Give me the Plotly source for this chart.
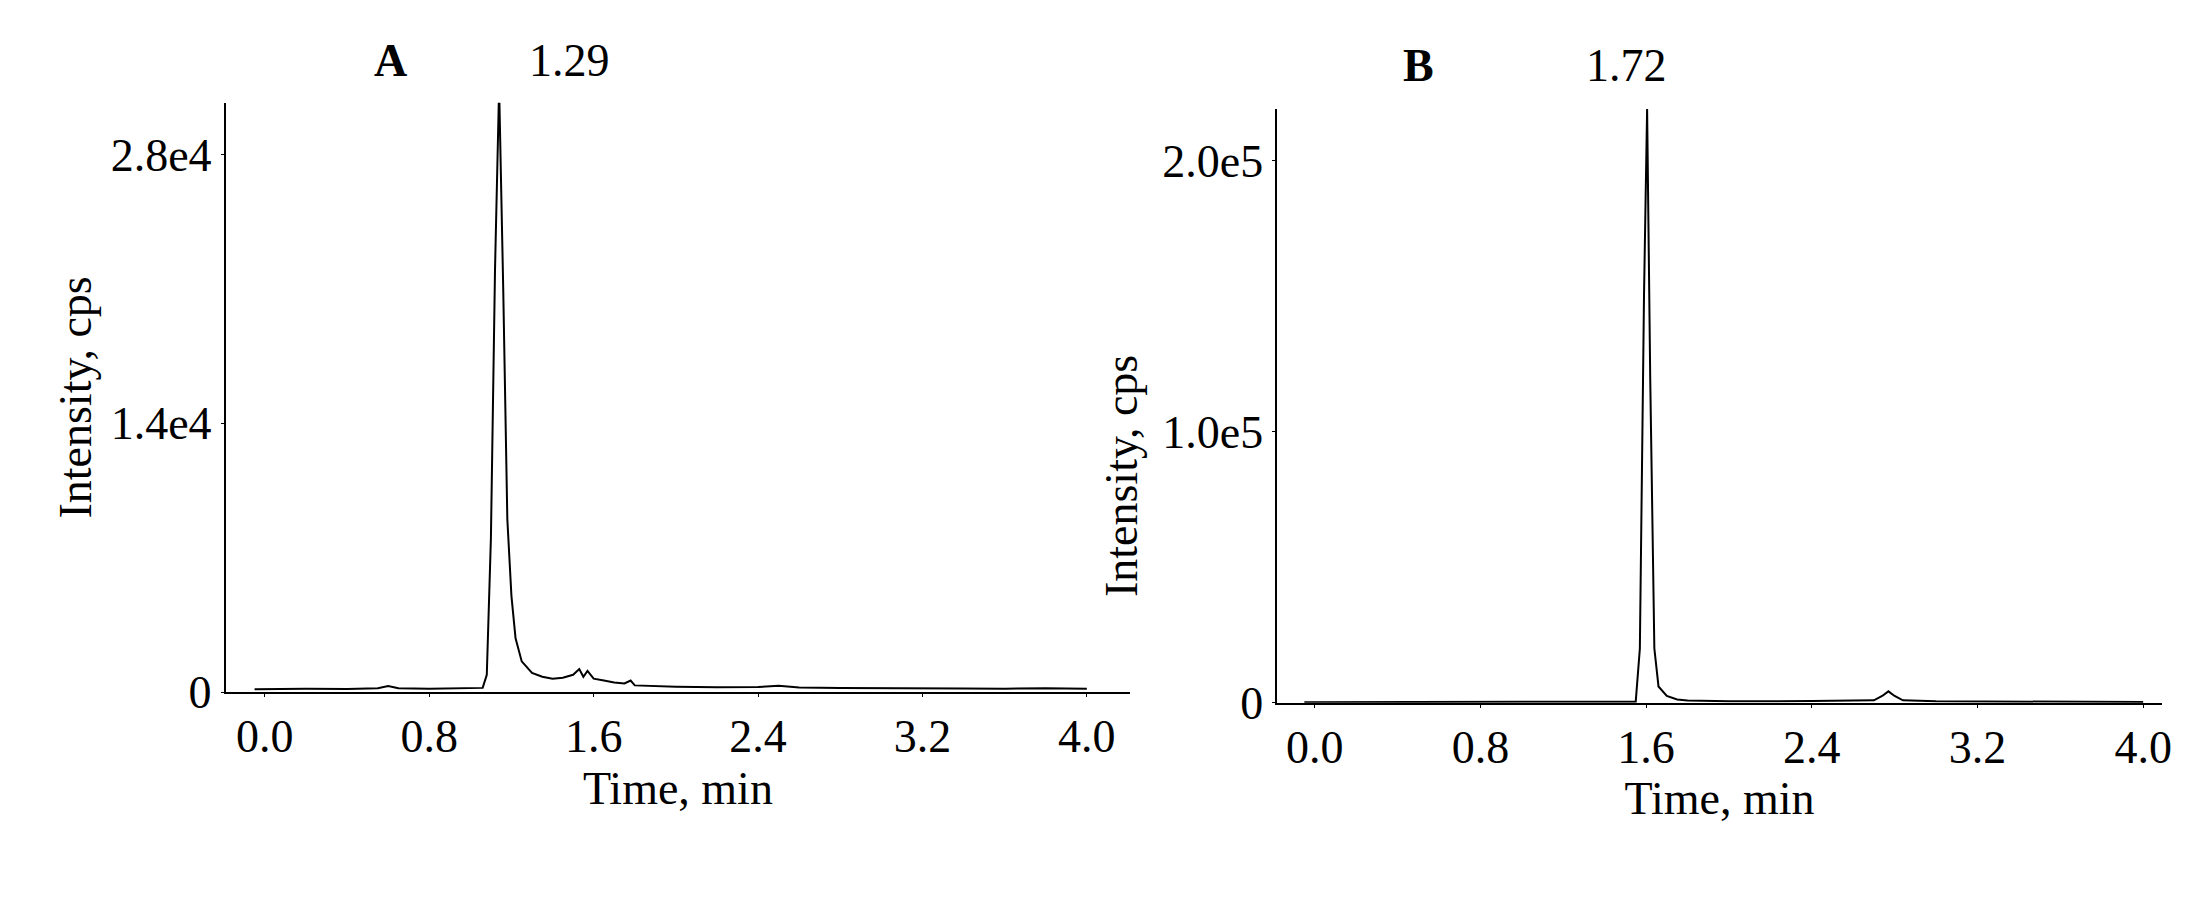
import plotly.graph_objects as go
from plotly.subplots import make_subplots

# Panel A chromatogram (time in min, intensity in cps)
time_a = [-0.05, 0.2, 0.4, 0.55, 0.6, 0.65, 0.8, 1.0, 1.06, 1.08, 1.10, 1.12, 1.14, 1.16, 1.18,
          1.20, 1.22, 1.25, 1.30, 1.35, 1.40, 1.45, 1.50, 1.53, 1.55, 1.57, 1.60, 1.65,
          1.70, 1.75, 1.78, 1.80, 1.90, 2.0, 2.2, 2.4, 2.5, 2.6, 2.8, 3.0, 3.2, 3.4, 3.6, 3.8, 4.0]
int_a = [150, 180, 160, 200, 320, 200, 180, 200, 220, 900, 8000, 22000, 31500, 21000, 9000,
         5000, 2800, 1600, 1000, 800, 700, 750, 900, 1200, 800, 1100, 700, 600,
         500, 450, 600, 350, 300, 280, 250, 260, 330, 240, 220, 200, 210, 190, 180, 200, 170]

# Panel B chromatogram
time_b = [-0.05, 0.5, 1.0, 1.4, 1.55, 1.57, 1.59, 1.605, 1.62, 1.64, 1.66, 1.70, 1.75, 1.80,
          2.0, 2.4, 2.7, 2.74, 2.77, 2.80, 2.84, 3.0, 3.5, 4.0]
int_b = [200, 200, 220, 250, 400, 20000, 150000, 219000, 120000, 20000, 6000, 2500, 1200, 800,
         500, 600, 900, 2500, 4200, 2500, 900, 500, 400, 300]

ticks_x = [0.0, 0.8, 1.6, 2.4, 3.2, 4.0]
tick_text_x = ["0.0", "0.8", "1.6", "2.4", "3.2", "4.0"]
ticks_ya = [0, 14000, 28000]
tick_text_ya = ["0", "1.4e4", "2.8e4"]
ticks_yb = [0, 100000, 200000]
tick_text_yb = ["0", "1.0e5", "2.0e5"]

FONT = "Liberation Serif"
FS = 46
txt = dict(family=FONT, size=FS, color="black")

fig = make_subplots(rows=1, cols=2)
fig.add_trace(go.Scatter(x=time_a, y=int_a, mode="lines", line=dict(color="black", width=2),
                         cliponaxis=False, showlegend=False), row=1, col=1)
fig.add_trace(go.Scatter(x=time_b, y=int_b, mode="lines", line=dict(color="black", width=2),
                         cliponaxis=False, showlegend=False), row=1, col=2)

axis_common = dict(showgrid=False, zeroline=False, showline=True, linecolor="black", linewidth=2,
                   ticks="outside", ticklen=3, tickcolor="black", tickfont=txt)

fig.update_xaxes(axis_common, tickvals=ticks_x, ticktext=tick_text_x,
                 title=dict(text="Time, min", font=txt, standoff=10))
fig.update_xaxes(domain=[0.099, 0.51], range=[-0.19, 4.21], row=1, col=1)
fig.update_xaxes(domain=[0.577, 0.979], range=[-0.18, 4.09], row=1, col=2)

fig.update_yaxes(axis_common)
fig.update_yaxes(domain=[0.227, 0.893], range=[0, 30700], tickvals=ticks_ya, ticktext=tick_text_ya,
                 title=dict(text="Intensity, cps", font=txt, standoff=5), row=1, col=1)
fig.update_yaxes(domain=[0.215, 0.886], range=[0, 219000], tickvals=ticks_yb, ticktext=tick_text_yb,
                 row=1, col=2)

# panel B's y title overlaps its tick labels in the original
fig.add_annotation(text="Intensity, cps", x=790 / 1560, y=1 - 340 / 643, xref="paper", yref="paper",
                   textangle=-90, showarrow=False, font=txt)
fig.add_annotation(text="<b>A</b>", x=258 / 1560, y=1 - 18 / 643, xref="paper", yref="paper",
                   showarrow=False, font=txt)
fig.add_annotation(text="1.29", x=368 / 1560, y=1 - 18 / 643, xref="paper", yref="paper",
                   showarrow=False, font=txt)
fig.add_annotation(text="<b>B</b>", x=1000 / 1560, y=1 - 22 / 643, xref="paper", yref="paper",
                   showarrow=False, font=txt)
fig.add_annotation(text="1.72", x=1178 / 1560, y=1 - 22 / 643, xref="paper", yref="paper",
                   showarrow=False, font=txt)

fig.update_layout(width=2210, height=911, margin=dict(l=0, r=0, t=0, b=0),
                  plot_bgcolor="white", paper_bgcolor="white")

fig.write_html("out.html")
